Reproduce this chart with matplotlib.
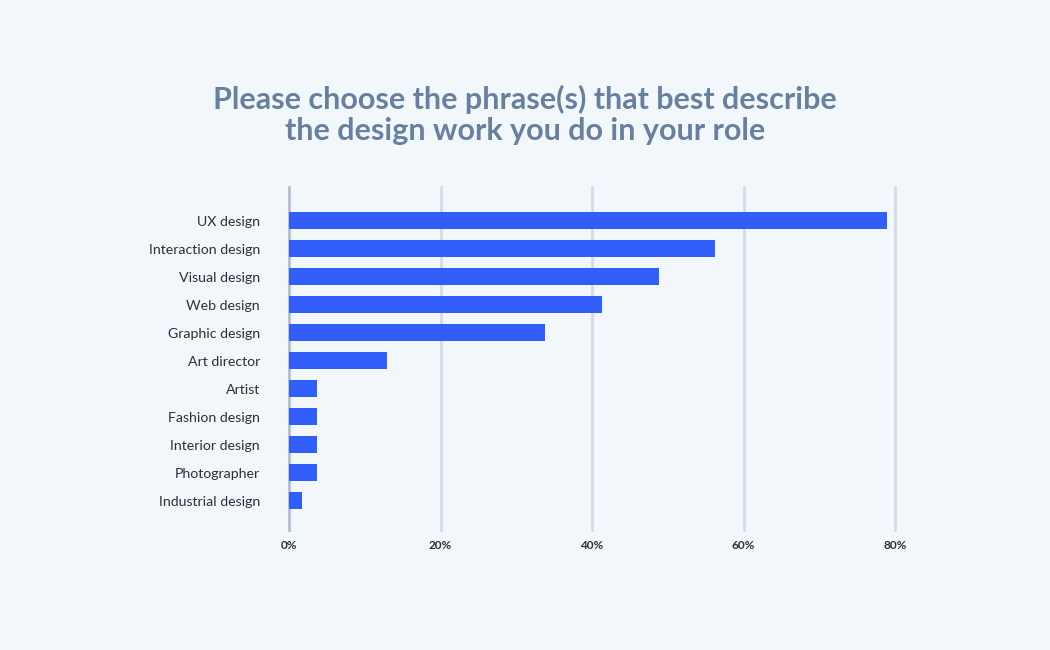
import numpy as np
import matplotlib
matplotlib.use("Agg")
import matplotlib.pyplot as plt

categories = ["UX design", "Interaction design", "Visual design", "Web design",
              "Graphic design", "Art director", "Artist", "Fashion design",
              "Interior design", "Photographer", "Industrial design"]
values = [79, 56.3, 48.9, 41.3, 33.8, 12.9, 3.7, 3.7, 3.7, 3.7, 1.7]
ticks = [0, 20, 40, 60, 80]
tick_labels = ["0%", "20%", "40%", "60%", "80%"]

bg = "#f2f7fc"
bar_color = "#315efb"

plt.rcParams["font.family"] = ["Lato", "DejaVu Sans"]

fig = plt.figure(figsize=(10.5, 6.5), dpi=100, facecolor=bg)
ax = fig.add_axes([289 / 1050, 120 / 650, 606 / 1050, 343 / 650])
ax.set_facecolor(bg)

y = np.arange(len(categories))
ax.barh(y, values, height=0.6, color=bar_color, zorder=3)

ax.set_xlim(0, 80)
ax.set_ylim(len(categories) - 1 + 1.05, -1.2)

for t in ticks:
    c = "#b3bfd0" if t == 0 else "#d3dbe8"
    ax.axvline(t, color=c, lw=2, zorder=1, clip_on=False)

for s in ax.spines.values():
    s.set_visible(False)

ax.set_yticks(y)
ax.set_yticklabels(categories, fontsize=10.2, color="#2c2f3a")
ax.set_xticks(ticks)
ax.set_xticklabels(tick_labels, fontsize=8.5, fontweight="bold", color="#2c2f3a")
ax.tick_params(axis="y", length=0, pad=21)
ax.tick_params(axis="x", length=0, pad=7)

fig.text(0.5, 1 - 99 / 650, "Please choose the phrase(s) that best describe",
         ha="center", va="center", fontsize=22, fontweight="bold", color="#67809f")
fig.text(0.5, 1 - 131 / 650, "the design work you do in your role",
         ha="center", va="center", fontsize=22, fontweight="bold", color="#67809f")

fig.savefig("out.png", dpi=100, facecolor=bg)
